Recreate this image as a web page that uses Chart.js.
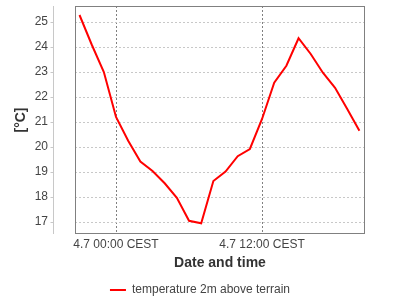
<!DOCTYPE html>
<html>
<head>
<meta charset="utf-8">
<script src="https://cdn.jsdelivr.net/npm/chart.js@4/dist/chart.umd.min.js"></script>
<style>
  html, body { margin: 0; padding: 0; background: #fff; }
</style>
</head>
<body>
<canvas id="tempChart" width="400" height="300"></canvas>
<script>
// hours relative to 4.7 00:00 CEST
const hours = [-3, -2, -1, 0, 1, 2, 3, 4, 5, 6, 7, 8, 9, 10, 11, 12, 13, 14, 15, 16, 17, 18, 19, 20];
const temps = [25.28, 24.1, 23.0, 21.2, 20.25, 19.42, 19.04, 18.55, 17.97, 17.05, 16.95, 18.64,
               19.02, 19.63, 19.92, 21.12, 22.57, 23.25, 24.35, 23.72, 22.97, 22.37, 21.52, 20.65];
const xTicks = [0, 12];
const xTickLabels = ['4.7 00:00 CEST', '4.7 12:00 CEST'];
const seriesName = 'temperature 2m above terrain';

const font = 'Liberation Sans, Arial, sans-serif';

// plot frame + the detached value axis line on the left
const framePlugin = {
  id: 'frame',
  afterLayout(chart) {
    // center the legend on the whole canvas and push it a bit lower
    const lg = chart.legend;
    lg.left = 0;
    lg.right = chart.width;
    lg.width = chart.width;
    lg.top += 6;
    lg.bottom += 6;
  },
  afterDraw(chart) {
    const {ctx, chartArea: a, scales} = chart;
    ctx.save();
    ctx.strokeStyle = '#808080';
    ctx.lineWidth = 1;
    ctx.strokeRect(a.left + 0.5, a.top + 0.5, a.right - a.left - 1, a.bottom - a.top - 1);
    const ax = a.left - 22 + 0.5;
    ctx.strokeStyle = '#c8c8c8';
    ctx.beginPath();
    ctx.moveTo(ax, a.top);
    ctx.lineTo(ax, a.bottom);
    scales.y.ticks.forEach(t => {
      const y = Math.round(scales.y.getPixelForValue(t.value)) + 0.5;
      ctx.moveTo(ax - 3, y);
      ctx.lineTo(ax, y);
    });
    ctx.stroke();
    ctx.restore();
  }
};

new Chart(document.getElementById('tempChart'), {
  type: 'line',
  data: {
    datasets: [{
      label: seriesName,
      data: hours.map((h, i) => ({x: h, y: temps[i]})),
      borderColor: '#ff0000',
      backgroundColor: '#ff0000',
      borderWidth: 2,
      pointRadius: 0,
      tension: 0
    }]
  },
  options: {
    responsive: false,
    animation: false,
    devicePixelRatio: 1,
    layout: { padding: { top: 6, right: 35, left: 0, bottom: 0 } },
    scales: {
      x: {
        type: 'linear',
        min: -3.37,
        max: 20.46,
        afterBuildTicks: scale => { scale.ticks = xTicks.map(v => ({value: v})); },
        afterFit: scale => { scale.height = 40; },
        border: { display: false, dash: [2, 2] },
        grid: { color: '#808080', drawTicks: false },
        ticks: {
          padding: 3,
          maxRotation: 0,
          color: '#444',
          font: { family: font, size: 12 },
          callback: v => xTickLabels[xTicks.indexOf(v)]
        },
        title: {
          display: true,
          text: 'Date and time',
          color: '#333',
          font: { family: font, size: 14, weight: 'bold' },
          padding: { top: 0, bottom: 2.6 }
        }
      },
      y: {
        min: 16.52,
        max: 25.64,
        afterFit: scale => {
          scale.width = 75;
          scale.paddingTop = 0;
          scale.paddingBottom = 0;
        },
        border: { display: false, dash: [2, 2] },
        grid: { color: '#c8c8c8', drawTicks: false },
        ticks: {
          stepSize: 1,
          includeBounds: false,
          padding: 27,
          color: '#444',
          font: { family: font, size: 12 }
        },
        title: {
          display: true,
          text: '[°C]',
          color: '#333',
          font: { family: font, size: 14, weight: 'bold' },
          padding: { top: 13, bottom: 0 }
        }
      }
    },
    plugins: {
      legend: {
        position: 'bottom',
        labels: {
          boxWidth: 16,
          boxHeight: 2,
          padding: 4,
          color: '#444',
          font: { family: font, size: 12 },
          generateLabels: chart => Chart.defaults.plugins.legend.labels.generateLabels(chart)
            .map(item => Object.assign(item, {lineWidth: 0}))
        }
      },
      tooltip: { enabled: false }
    }
  },
  plugins: [framePlugin]
});
</script>
</body>
</html>
